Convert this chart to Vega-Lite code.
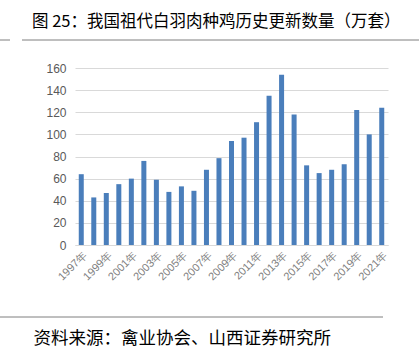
{
  "$schema": "https://vega.github.io/schema/vega-lite/v6.json",
  "width": 313,
  "height": 177,
  "autosize": "none",
  "padding": {"left": 75, "top": 68, "right": 31, "bottom": 109},
  "background": "white",
  "config": {"view": {"stroke": null}, "font": "Liberation Sans"},
  "title": {
    "text": "图 25：我国祖代白羽肉种鸡历史更新数量（万套）",
    "anchor": "start",
    "frame": "group",
    "font": "Noto Sans CJK SC",
    "fontSize": 16.5,
    "fontWeight": "normal",
    "color": "#000000",
    "dx": -43,
    "offset": 9
  },
  "datasets": {
    "bars": [
      {"year": "1997年", "value": 64},
      {"year": "1998年", "value": 43},
      {"year": "1999年", "value": 47},
      {"year": "2000年", "value": 55},
      {"year": "2001年", "value": 60},
      {"year": "2002年", "value": 76},
      {"year": "2003年", "value": 59},
      {"year": "2004年", "value": 48},
      {"year": "2005年", "value": 53},
      {"year": "2006年", "value": 49},
      {"year": "2007年", "value": 68},
      {"year": "2008年", "value": 78.5},
      {"year": "2009年", "value": 94},
      {"year": "2010年", "value": 97},
      {"year": "2011年", "value": 111},
      {"year": "2012年", "value": 135},
      {"year": "2013年", "value": 154},
      {"year": "2014年", "value": 118},
      {"year": "2015年", "value": 72},
      {"year": "2016年", "value": 65},
      {"year": "2017年", "value": 68},
      {"year": "2018年", "value": 73},
      {"year": "2019年", "value": 122},
      {"year": "2020年", "value": 100},
      {"year": "2021年", "value": 124}
    ]
  },
  "layer": [
    {
      "data": {"name": "bars"},
      "mark": {"type": "bar", "color": "#4A7EBB"},
      "encoding": {
        "x": {
          "field": "year",
          "type": "ordinal",
          "sort": null,
          "scale": {"paddingInner": 0.6, "paddingOuter": 0.3},
          "axis": {
            "values": ["1997年","1999年","2001年","2003年","2005年","2007年","2009年","2011年","2013年","2015年","2017年","2019年","2021年"],
            "labelAngle": -45,
            "labelAlign": "right",
            "labelBaseline": "top",
            "labelPadding": 4,
            "labelFontSize": 11,
            "labelColor": "#7f7f7f",
            "ticks": false,
            "domain": true,
            "domainColor": "#d9d9d9",
            "title": "资料来源：禽业协会、山西证券研究所",
            "titleFont": "Noto Sans CJK SC",
            "titleFontSize": 17.5,
            "titleFontWeight": "normal",
            "titleColor": "#000000",
            "titleAnchor": "start",
            "titleAlign": "left",
            "titleBaseline": "middle",
            "titleX": -42,
            "titleY": 93
          }
        },
        "y": {
          "field": "value",
          "type": "quantitative",
          "scale": {"domain": [0, 160]},
          "axis": {
            "values": [0, 20, 40, 60, 80, 100, 120, 140, 160],
            "title": null,
            "domain": false,
            "ticks": false,
            "labelPadding": 9,
            "labelFontSize": 12,
            "labelColor": "#595959",
            "gridColor": "#d9d9d9",
            "gridWidth": 1
          }
        }
      }
    },
    {
      "data": {"values": [{}]},
      "mark": {"type": "rule", "color": "#7f7f7f", "strokeWidth": 1},
      "encoding": {"x": {"value": -53}, "x2": {"value": 344}, "y": {"value": -28}}
    },
    {
      "data": {"values": [{}]},
      "mark": {"type": "rule", "color": "#7f7f7f", "strokeWidth": 1},
      "encoding": {"x": {"value": -75}, "x2": {"value": -65}, "y": {"value": -28}}
    },
    {
      "data": {"values": [{}]},
      "mark": {"type": "rule", "color": "#7f7f7f", "strokeWidth": 1},
      "encoding": {"x": {"value": -75}, "x2": {"value": 308}, "y": {"value": 249}}
    }
  ]
}
